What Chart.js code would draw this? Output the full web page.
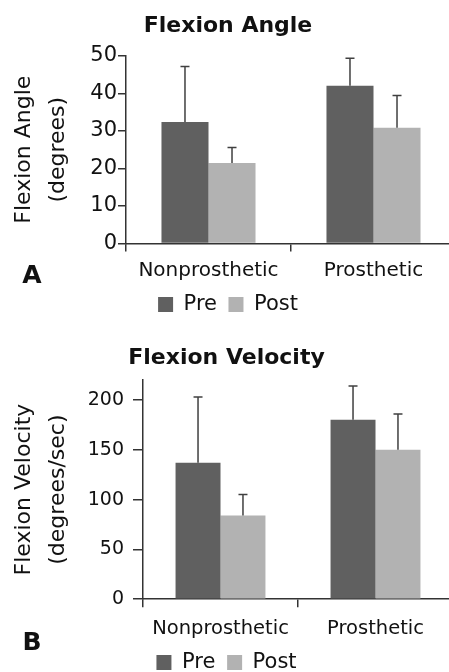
<!DOCTYPE html>
<html>
<head>
<meta charset="utf-8">
<script src="https://cdn.jsdelivr.net/npm/chart.js@4.4.1/dist/chart.umd.min.js"></script>
<style>
  body { margin: 0; background: #fff; }
  #wrap { position: relative; width: 449px; height: 672px; overflow: hidden; background: #fff; }
  #angleChart { position: absolute; left: 0; top: 0; }
  #velocityChart { position: absolute; left: 0; top: 320px; }
</style>
</head>
<body>
<div id="wrap">
  <canvas id="angleChart"></canvas>
  <canvas id="velocityChart"></canvas>
</div>
<script>
// data
const groups = ['Nonprosthetic', 'Prosthetic'];
const seriesNames = ['Pre', 'Post'];

const anglePre = [32.4, 42.1];
const anglePreSd = [14.8, 7.3];
const anglePost = [21.5, 30.9];
const anglePostSd = [4.1, 8.6];
const angleTicks = [0, 10, 20, 30, 40, 50];

const velocityPre = [137, 180];
const velocityPreSd = [66, 34];
const velocityPost = [84, 150];
const velocityPostSd = [21, 36];
const velocityTicks = [0, 50, 100, 150, 200];

const preColor = '#606060';
const postColor = '#b2b2b2';
const axisColor = '#333333';
const FONT = "'DejaVu Sans', sans-serif";

// one-sided (upward) error bars
const errorBarPlugin = {
  id: 'errorBars',
  afterDatasetsDraw(chart) {
    const ctx = chart.ctx;
    const yScale = chart.scales.y;
    ctx.save();
    ctx.strokeStyle = '#404040';
    ctx.lineWidth = 1.5;
    chart.data.datasets.forEach((ds, i) => {
      const meta = chart.getDatasetMeta(i);
      meta.data.forEach((bar, j) => {
        const top = yScale.getPixelForValue(ds.data[j] + ds.errorBars[j]);
        ctx.beginPath();
        ctx.moveTo(bar.x, bar.y);
        ctx.lineTo(bar.x, top);
        ctx.moveTo(bar.x - 4.5, top);
        ctx.lineTo(bar.x + 4.5, top);
        ctx.stroke();
      });
    });
    ctx.restore();
  }
};

// panel letter (A / B)
const panelLabelPlugin = {
  id: 'panelLabel',
  afterDraw(chart, args, opts) {
    const ctx = chart.ctx;
    ctx.save();
    ctx.font = 'bold 25px ' + FONT;
    ctx.fillStyle = '#111';
    ctx.textAlign = 'center';
    ctx.textBaseline = 'middle';
    ctx.fillText(opts.text, opts.x, opts.y);
    ctx.restore();
  }
};

function makeChart(id, cfg) {
  const canvas = document.getElementById(id);
  canvas.width = cfg.width;
  canvas.height = cfg.height;
  return new Chart(canvas.getContext('2d'), {
    type: 'bar',
    data: {
      labels: groups,
      datasets: [
        { label: seriesNames[0], data: cfg.pre, errorBars: cfg.preSd, backgroundColor: preColor },
        { label: seriesNames[1], data: cfg.post, errorBars: cfg.postSd, backgroundColor: postColor }
      ]
    },
    options: {
      responsive: false,
      animation: false,
      devicePixelRatio: 1,
      categoryPercentage: cfg.catPct,
      barPercentage: 1.0,
      layout: { padding: 0 },
      plugins: {
        title: {
          display: true,
          text: cfg.title,
          color: '#111',
          font: { family: FONT, size: 22, weight: 'bold', lineHeight: 1.2 },
          padding: { top: cfg.titlePadTop, bottom: cfg.titlePadBottom }
        },
        legend: {
          position: 'bottom',
          labels: {
            boxWidth: 15,
            boxHeight: 15,
            padding: cfg.legendPad,
            color: '#111',
            font: { family: FONT, size: 21 }
          }
        },
        tooltip: { enabled: false },
        panelLabel: cfg.panel
      },
      scales: {
        x: {
          offset: true,
          afterFit: (scale) => { scale.height -= cfg.xShrink; },
          grid: { offset: true, drawOnChartArea: false, tickLength: 8, color: axisColor, lineWidth: 1.5 },
          border: { color: axisColor, width: 1.5 },
          ticks: { color: '#111', padding: cfg.xPad, maxRotation: 0, font: { family: FONT, size: cfg.xFont } }
        },
        y: {
          min: 0,
          max: cfg.yMax,
          afterBuildTicks: (scale) => { scale.ticks = cfg.ticks.map(v => ({ value: v })); },
          afterFit: (scale) => { scale.width = cfg.yWidth; },
          grid: { drawOnChartArea: false, tickLength: cfg.yTickLen, color: axisColor, lineWidth: 1.5 },
          border: { color: axisColor, width: 1.5 },
          ticks: { color: '#111', padding: cfg.yPad, font: { family: FONT, size: cfg.yFont } },
          title: {
            display: true,
            text: cfg.yTitle,
            color: '#111',
            font: { family: FONT, size: 22, lineHeight: 1.55 },
            padding: { top: 7, bottom: 0 }
          }
        }
      }
    },
    plugins: [errorBarPlugin, panelLabelPlugin]
  });
}

makeChart('angleChart', {
  width: 456, height: 325,
  title: 'Flexion Angle', titlePadTop: 12.8, titlePadBottom: 16.8,
  pre: anglePre, preSd: anglePreSd, post: anglePost, postSd: anglePostSd,
  yMax: 50, ticks: angleTicks, yWidth: 126, yTickLen: 8, yPad: 1, yFont: 21,
  yTitle: ['Flexion Angle', '(degrees)'],
  xFont: 20, xPad: 7, xShrink: 7, catPct: 0.57, legendPad: 11.5,
  panel: { text: 'A', x: 32, y: 276 }
});

makeChart('velocityChart', {
  width: 453, height: 363,
  title: 'Flexion Velocity', titlePadTop: 24.8, titlePadBottom: 8.8,
  pre: velocityPre, preSd: velocityPreSd, post: velocityPost, postSd: velocityPostSd,
  yMax: 220, ticks: velocityTicks, yWidth: 143, yTickLen: 10, yPad: 9, yFont: 19,
  yTitle: ['Flexion Velocity', '(degrees/sec)'],
  xFont: 19.5, xPad: 10.3, xShrink: 11, catPct: 0.58, legendPad: 11.8,
  panel: { text: 'B', x: 32, y: 323 }
});
</script>
</body>
</html>
